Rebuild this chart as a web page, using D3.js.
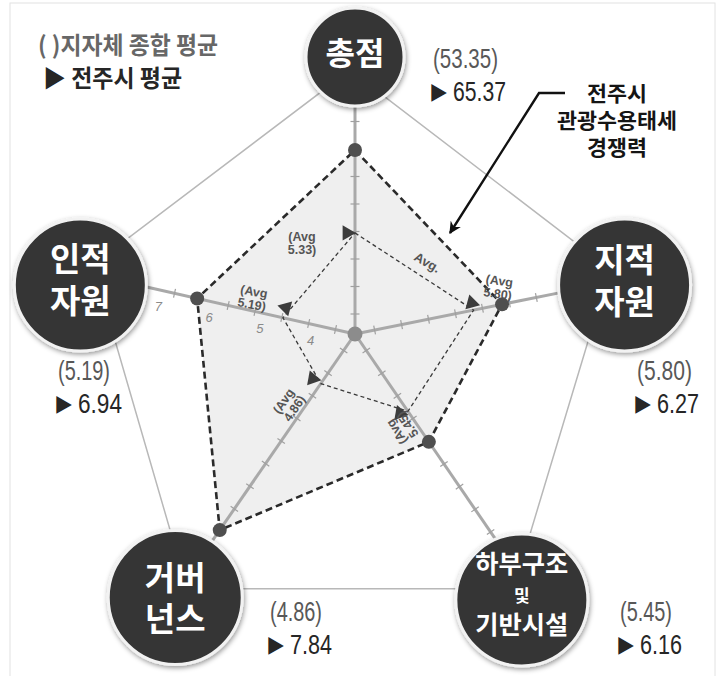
<!DOCTYPE html>
<meta charset="UTF-8">
<style>
body { margin: 0; background: #fff; }
svg { display: block; }
text { font-family: "Noto Sans CJK KR", "Noto Sans", sans-serif; }
.num { font-family: "Liberation Sans", Arial, sans-serif; }
</style>
<body>
<script src="https://cdnjs.cloudflare.com/ajax/libs/d3/7.8.5/d3.min.js"></script>
<script>
// ---- data ----
var categories = ["총점", "지적자원", "하부구조 및 기반시설", "거버넌스", "인적자원"];
var nodeLines = [["총점"], ["지적", "자원"], ["하부구조", "및", "기반시설"], ["거버", "넌스"], ["인적", "자원"]];
var jeonjuAvg = [65.37, 6.27, 6.16, 7.84, 6.94];   // ▶ 전주시 평균
var localAvg = [53.35, 5.80, 5.45, 4.86, 5.19];    // ( ) 지자체 종합 평균
var avgTags = ["5.33", "5.80", "5.45", "4.86", "5.19"]; // as printed inside the chart
var axisMin = [38.7, 3.84, 3.65, 3.85, 3.72];      // value at the centre
var axisMax = [67.7, 7.08, 7.49, 7.20, 7.70];      // value at radius R
var scaleTicks = [4, 5, 6, 7];                     // labels on the 인적자원 axis
var legendItems = ["( )지자체 종합 평균", "▶ 전주시 평균"];
var calloutLines = ["전주시", "관광수용태세", "경쟁력"];

// ---- layout ----
var width = 721, height = 676;
var cx = 355, cy = 334, R = 200;
var axisAngle = [-90, -11.4, 55.6, 124.6, 192.7];
var nodeAngle = [-90, -10.3, 57.9, 124.3, 190.1];
var nodeDist = [277, 274, 314, 319, 279];
var nodeR = [49, 66, 66, 67, 66];
var frameAngle = [-91.1, -14.3, 58.1, 123.4, 194.8];
var frameDist = [264, 263, 300, 305, 271];

function pt(angle, d) {
  var a = angle * Math.PI / 180;
  return [cx + d * Math.cos(a), cy + d * Math.sin(a)];
}

var scales = categories.map(function(c, i) {
  return d3.scaleLinear().domain([axisMin[i], axisMax[i]]).range([0, R]);
});
// label scale for the numbers printed on the left axis
var tickLabelScale = d3.scaleLinear().domain([4, 7]).range([42, 198]);

var svg = d3.select("body").append("svg")
    .attr("width", width)
    .attr("height", height);

var defs = svg.append("defs");
defs.append("filter").attr("id", "shadow")
    .attr("x", "-20%").attr("y", "-20%").attr("width", "140%").attr("height", "140%")
  .append("feDropShadow")
    .attr("dx", 1).attr("dy", 2).attr("stdDeviation", 2.5)
    .attr("flood-color", "#000").attr("flood-opacity", 0.4);
defs.append("marker").attr("id", "arrow")
    .attr("viewBox", "0 0 10 10").attr("refX", 9).attr("refY", 5)
    .attr("markerWidth", 5).attr("markerHeight", 5).attr("orient", "auto")
  .append("path").attr("d", "M0,0 L10,5 L0,10 L3,5 Z").attr("fill", "#111");

// faint frame
svg.append("rect")
    .attr("x", 10).attr("y", 3).attr("width", 705).attr("height", 680)
    .attr("fill", "none").attr("stroke", "#e2e2e2");

// outer pentagon
var line = d3.line().curve(d3.curveLinearClosed);
svg.append("path")
    .attr("d", line(frameAngle.map(function(a, i) { return pt(a, frameDist[i]); })))
    .attr("fill", "none").attr("stroke", "#b8b8b8").attr("stroke-width", 1.5);

// Jeonju polygon (fill)
var jeonjuPts = jeonjuAvg.map(function(v, i) { return pt(axisAngle[i], scales[i](v)); });
var avgPts = localAvg.map(function(v, i) { return pt(axisAngle[i], scales[i](v)); });

svg.append("path")
    .attr("d", line(jeonjuPts))
    .attr("fill", "#efefef").attr("stroke", "none");

// axes with ticks
categories.forEach(function(c, i) {
  var len = nodeDist[i] - nodeR[i] + 4;
  var p1 = pt(axisAngle[i], len);
  svg.append("line")
      .attr("x1", cx).attr("y1", cy).attr("x2", p1[0]).attr("y2", p1[1])
      .attr("stroke", "#a9a9a9").attr("stroke-width", 3);
  var a = axisAngle[i] * Math.PI / 180, nx = -Math.sin(a), ny = Math.cos(a);
  svg.selectAll(null).data(d3.range(20, len - 6, 27.5)).enter().append("line")
      .attr("x1", function(d) { return pt(axisAngle[i], d)[0] - nx * 4.5; })
      .attr("y1", function(d) { return pt(axisAngle[i], d)[1] - ny * 4.5; })
      .attr("x2", function(d) { return pt(axisAngle[i], d)[0] + nx * 4.5; })
      .attr("y2", function(d) { return pt(axisAngle[i], d)[1] + ny * 4.5; })
      .attr("stroke", "#a0a0a0").attr("stroke-width", 1.2);
});

// numbers on the left axis (below the axis)
(function() {
  var a = axisAngle[4] * Math.PI / 180, nx = Math.sin(a), ny = -Math.cos(a);
  svg.selectAll(null).data(scaleTicks).enter().append("text")
      .attr("class", "num")
      .attr("x", function(d) { return pt(axisAngle[4], tickLabelScale(d))[0] + nx * 16; })
      .attr("y", function(d) { return pt(axisAngle[4], tickLabelScale(d))[1] + ny * 16; })
      .attr("text-anchor", "middle").attr("dominant-baseline", "central")
      .attr("font-size", 13).attr("font-style", "italic").attr("fill", "#8a8a8a")
      .text(function(d) { return d; });
})();

// centre dot
svg.append("circle").attr("cx", cx).attr("cy", cy).attr("r", 7.5).attr("fill", "#8c8c8c");

// local average polygon
svg.append("path")
    .attr("d", line(avgPts))
    .attr("fill", "none").attr("stroke", "#3a3a3a").attr("stroke-width", 1.3)
    .attr("stroke-dasharray", "4,3");

// Jeonju polygon (dashed outline)
svg.append("path")
    .attr("d", line(jeonjuPts))
    .attr("fill", "none").attr("stroke", "#2a2a2a").attr("stroke-width", 2.6)
    .attr("stroke-dasharray", "7,4");

svg.selectAll("circle.val").data(jeonjuPts).enter().append("circle")
    .attr("class", "val")
    .attr("cx", function(d) { return d[0]; }).attr("cy", function(d) { return d[1]; })
    .attr("r", 7).attr("fill", "#4f4f4f");

// triangles at the average points
var triOff = [[-8, 0, 90], [-2, -7, -15], [-8, 2, -20], [-8, -5, 100], [3, -10, 165]];
svg.selectAll("path.tri").data(avgPts).enter().append("path")
    .attr("class", "tri")
    .attr("d", d3.symbol(d3.symbolTriangle, 100))
    .attr("transform", function(d, i) {
      return "translate(" + (d[0] + triOff[i][0]) + "," + (d[1] + triOff[i][1]) + ") rotate(" + triOff[i][2] + ")";
    })
    .attr("fill", "#3c3c3c");

// "(Avg x.xx)" labels next to the average points
var avgLabelOff = [[-53, 10, 0], [25, -23, 8], [-6, 17, 236], [-32, 21, -56], [-30, -20, 10]];
avgPts.forEach(function(p, i) {
  var o = avgLabelOff[i];
  var t = svg.append("text")
      .attr("class", "num")
      .attr("transform", "translate(" + (p[0] + o[0]) + "," + (p[1] + o[1]) + ") rotate(" + o[2] + ")")
      .attr("text-anchor", "middle").attr("font-size", 12.5).attr("font-weight", "bold")
      .attr("fill", "#555");
  t.append("tspan").attr("x", 0).attr("y", -2).text("(Avg");
  t.append("tspan").attr("x", 0).attr("y", 11).text(avgTags[i] + ")");
});

// "Avg." along the top-right segment
(function() {
  var a = avgPts[0], b = avgPts[1];
  var ang = Math.atan2(b[1] - a[1], b[0] - a[0]) * 180 / Math.PI;
  svg.append("text")
      .attr("class", "num")
      .attr("transform", "translate(" + ((a[0] + b[0]) / 2 + 13) + "," + ((a[1] + b[1]) / 2 - 9) + ") rotate(" + (ang - 3) + ")")
      .attr("text-anchor", "middle").attr("dominant-baseline", "central")
      .attr("font-size", 13).attr("font-weight", "bold").attr("fill", "#555")
      .text("Avg.");
})();

// callout arrow
svg.append("path")
    .attr("d", "M565,93 L539,93 L450,233")
    .attr("fill", "none").attr("stroke", "#111").attr("stroke-width", 2.4)
    .attr("marker-end", "url(#arrow)");

var calloutW = [60, 120, 60];
svg.selectAll("text.callout").data(calloutLines).enter().append("text")
    .attr("class", "callout")
    .attr("x", 617).attr("y", function(d, i) { return 101 + i * 27; })
    .attr("text-anchor", "middle").attr("font-size", 21).attr("font-weight", "bold")
    .attr("fill", "#151515")
    .attr("textLength", function(d, i) { return calloutW[i]; })
    .attr("lengthAdjust", "spacingAndGlyphs")
    .text(function(d) { return d; });

// legend
svg.selectAll("text.legend").data(legendItems).enter().append("text")
    .attr("class", "legend")
    .attr("x", function(d, i) { return i ? 43 : 38; })
    .attr("y", function(d, i) { return i ? 87 : 54; })
    .attr("font-size", 24).attr("font-weight", "bold")
    .attr("fill", function(d, i) { return i ? "#262626" : "#676767"; })
    .attr("textLength", function(d, i) { return i ? 139 : 180; })
    .attr("lengthAdjust", "spacingAndGlyphs")
    .text(function(d) { return d; });

// category bubbles
var nodeFont = [32, 33, 25, 33, 33];
var nodeLineDy = [[-6], [-27, 15], [-38, -5, 23], [-22, 19], [-28, 14]];
categories.forEach(function(c, i) {
  var p = pt(nodeAngle[i], nodeDist[i]);
  svg.append("circle")
      .attr("cx", p[0]).attr("cy", p[1]).attr("r", nodeR[i])
      .attr("fill", "#353535").attr("stroke", "#f2f2f2").attr("stroke-width", 3)
      .attr("filter", "url(#shadow)");
  nodeLines[i].forEach(function(l, j) {
    var small = (i === 2 && j === 1);
    svg.append("text")
        .attr("x", p[0]).attr("y", p[1] + nodeLineDy[i][j])
        .attr("text-anchor", "middle").attr("dominant-baseline", "central")
        .attr("font-size", small ? 17 : nodeFont[i]).attr("font-weight", "bold")
        .attr("fill", "#fff")
        .attr("textLength", (i === 2 && !small) ? 93 : null)
        .attr("lengthAdjust", "spacingAndGlyphs")
        .text(l);
  });
});

// value labels
var valPos = [[433, 68], [637, 380], [620, 621], [270, 621], [58, 380]];
var valW = [65, 55, 52, 52, 52];
var numW = [53, 42, 42, 42, 44];
categories.forEach(function(c, i) {
  var x = valPos[i][0], y = valPos[i][1];
  svg.append("text").attr("class", "num")
      .attr("x", x).attr("y", y)
      .attr("font-size", 28).attr("fill", "#585858")
      .attr("textLength", valW[i]).attr("lengthAdjust", "spacingAndGlyphs")
      .text("(" + d3.format(".2f")(localAvg[i]) + ")");
  svg.append("text")
      .attr("x", x - 4).attr("y", y + 32)
      .attr("font-family", "DejaVu Sans").attr("font-size", 19).attr("fill", "#262626")
      .text("▶");
  svg.append("text").attr("class", "num")
      .attr("x", x + 20).attr("y", y + 33)
      .attr("font-size", 28).attr("fill", "#262626")
      .attr("textLength", numW[i]).attr("lengthAdjust", "spacingAndGlyphs")
      .text(d3.format(".2f")(jeonjuAvg[i]));
});
</script>
</body>
